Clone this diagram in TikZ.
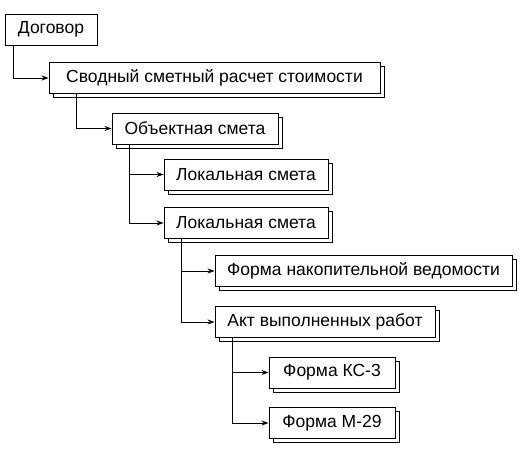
\documentclass[tikz,border=0pt]{standalone}
\usepackage{fontspec}
\setmainfont{Liberation Sans}
\usetikzlibrary{shadows,arrows.meta}
\begin{document}
\begin{tikzpicture}[
        x=1pt, y=-1pt,
        >={Stealth[length=7pt,width=5pt]},
        line width=0.9pt,
        every node/.style={font=\fontsize{17.5}{20}\selectfont},
        doc/.style={draw, fill=white, inner sep=0pt, minimum height=31pt},
        stack/.style={doc, copy shadow={shadow xshift=4pt, shadow yshift=-4pt}}
    ]
    \useasboundingbox (0,0) rectangle (525,457);

    % Boxes
    \node[doc, minimum width=92pt] (dogovor) at (51,29.5) {Договор};
    \node[stack, minimum width=331pt] (svod) at (214.5,78) {Сводный сметный расчет стоимости};
    \node[stack, minimum width=166pt] (obj) at (195,128.5) {Объектная смета};
    \node[stack, minimum width=164pt] (lok1) at (246,174.5) {Локальная смета};
    \node[stack, minimum width=164pt] (lok2) at (246,223) {Локальная смета};
    \node[stack, minimum width=297pt] (nakop) at (363.5,271) {Форма накопительной ведомости};
    \node[stack, minimum width=220pt] (akt) at (325,322) {Акт выполненных работ};
    \node[stack, minimum width=126pt] (ks) at (332,372.5) {Форма КС-3};
    \node[stack, minimum width=126pt] (m) at (332,423) {Форма М-29};

    % Links
    \draw[->] ([xshift=9pt]dogovor.south west) |- (svod.west);
    \draw[->] ([xshift=28pt]svod.south west) |- (obj.west);
    \draw[->] ([xshift=18pt]obj.south west) |- (lok1.west);
    \draw[->] ([xshift=18pt]obj.south west) |- (lok2.west);
    \draw[->] ([xshift=18pt]lok2.south west) |- (nakop.west);
    \draw[->] ([xshift=18pt]lok2.south west) |- (akt.west);
    \draw[->] ([xshift=18pt]akt.south west) |- (ks.west);
    \draw[->] ([xshift=18pt]akt.south west) |- (m.west);
\end{tikzpicture}
\end{document}
